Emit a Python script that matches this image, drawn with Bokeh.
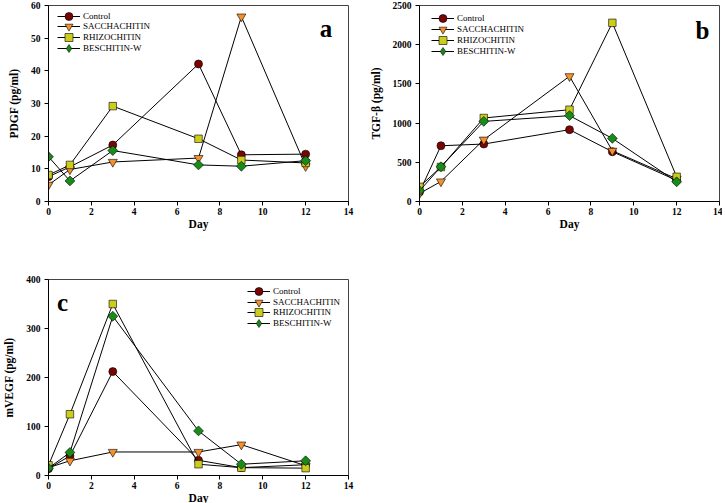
import numpy as np
from bokeh.plotting import figure
from bokeh.layouts import column, row
from bokeh.models import Range1d, Legend, LegendItem, Label, FixedTicker
from bokeh.embed import file_html
from bokeh.resources import INLINE

days = [0, 1, 3, 7, 9, 12]
series_names = ["Control", "SACCHACHITIN", "RHIZOCHITIN", "BESCHITIN-W"]

pdgf_control = [7.6, 10.6, 17.3, 42.1, 14.3, 14.5]
pdgf_saccha = [5.1, 9.8, 12.1, 13.3, 56.6, 10.8]
pdgf_rhizo = [8.1, 11.2, 29.2, 19.2, 12.7, 11.8]
pdgf_besch = [13.7, 6.3, 15.6, 11.2, 10.8, 12.5]

tgf_control = [120, 711, 733, 916, 635, 270]
tgf_saccha = [102, 255, 788, 1597, 647, 290]
tgf_rhizo = [187, 440, 1065, 1171, 2279, 315]
tgf_besch = [136, 443, 1022, 1095, 805, 251]

vegf_control = [14, 40, 212, 31, 16, 22]
vegf_saccha = [16, 30, 48, 48, 63, 20]
vegf_rhizo = [21, 125, 350, 23, 16, 15]
vegf_besch = [15, 47, 325, 91, 23, 30]

x_ticks = [0, 2, 4, 6, 8, 10, 12, 14]
pdgf_ticks = [0, 10, 20, 30, 40, 50, 60]
tgf_ticks = [0, 500, 1000, 1500, 2000, 2500]
vegf_ticks = [0, 100, 200, 300, 400]

colors = ["#7a0505", "#f5912a", "#cccc1a", "#178c17"]
markers = ["circle", "inverted_triangle", "square", "square"]
legend_markers = ["circle", "inverted_triangle", "square", "diamond"]
sizes = [8, 9, 7.5, 7]
angles = [0, 0, 0, np.pi / 4]

SERIF = "Liberation Serif"
FRAME_H = 196


def make_panel(series, ymax, yticks, ylabel, letter, letter_pos,
               borders, legend_x, legend_top, legend_pitch):
    bl, br, bt, bb = borders
    p = figure(frame_width=300, frame_height=FRAME_H,
               x_range=Range1d(0, 14), y_range=Range1d(0, ymax),
               output_backend="svg", toolbar_location=None,
               min_border_left=bl, min_border_right=br,
               min_border_top=bt, min_border_bottom=bb)
    p.xgrid.visible = False
    p.ygrid.visible = False
    p.outline_line_color = "#444444"
    p.outline_line_width = 1
    p.background_fill_color = "white"
    p.border_fill_color = "white"
    for ax in (p.xaxis[0], p.yaxis[0]):
        ax.axis_line_color = "black"
        ax.major_tick_line_color = "black"
        ax.major_tick_out = 4
        ax.major_tick_in = 0
        ax.minor_tick_line_color = None
        ax.major_label_text_font = SERIF
        ax.major_label_text_font_style = "bold"
        ax.major_label_text_font_size = "9.5px"
        ax.major_label_text_color = "black"
        ax.axis_label_text_font = SERIF
        ax.axis_label_text_font_style = "bold"
        ax.axis_label_text_font_size = "11.5px"
        ax.axis_label_text_color = "black"
    p.xaxis[0].ticker = FixedTicker(ticks=x_ticks)
    p.yaxis[0].ticker = FixedTicker(ticks=yticks)
    p.xaxis[0].axis_label = "Day"
    p.xaxis[0].major_label_standoff = 2
    p.xaxis[0].axis_label_standoff = 0
    p.yaxis[0].axis_label = ylabel
    p.yaxis[0].major_label_standoff = 4
    p.yaxis[0].axis_label_standoff = 8

    for k, (name, vals, c, m, lm, s, a) in enumerate(
            zip(series_names, series, colors, markers, legend_markers, sizes, angles)):
        lr = p.line(days, vals, line_color="black", line_width=1)
        sr = p.scatter(days, vals, marker=m, size=s, angle=a,
                       fill_color=c, line_color="black", line_width=0.6)
        if lm != m:
            hr = p.scatter(days, vals, marker=lm, size=s, fill_color=c,
                           line_color="black", line_width=0.6, visible=False)
            item = LegendItem(label=name, renderers=[lr, hr])
        else:
            item = LegendItem(label=name, renderers=[lr, sr])
        center = legend_top + k * legend_pitch
        leg = Legend(items=[item], location=(legend_x, FRAME_H - center - 10),
                     label_text_font=SERIF, label_text_font_size="9px",
                     label_text_color="black",
                     glyph_width=23, glyph_height=20, label_height=20,
                     label_standoff=3, spacing=0, padding=0, margin=0,
                     border_line_color=None, background_fill_alpha=0,
                     click_policy="none")
        p.add_layout(leg)
    lx, ly = letter_pos
    p.add_layout(Label(x=lx, y=ly, text=letter, text_font=SERIF,
                       text_font_style="bold", text_font_size="25px",
                       text_align="center", text_baseline="alphabetic",
                       text_color="black"))
    return p


pa = make_panel([pdgf_control, pdgf_saccha, pdgf_rhizo, pdgf_besch],
                60, pdgf_ticks, "PDGF (pg/ml)", "a", (12.95, 53.0),
                (48, 12, 5, 39), 9, 10.7, 10.7)
pb = make_panel([tgf_control, tgf_saccha, tgf_rhizo, tgf_besch],
                2500, tgf_ticks, "TGF-\u03b2 (pg/ml)", "b", (13.2, 2181),
                (59, 3, 3, 41), 12, 13.4, 10.7)
pc = make_panel([vegf_control, vegf_saccha, vegf_rhizo, vegf_besch],
                400, vegf_ticks, "mVEGF (pg/ml)", "c", (0.65, 354),
                (44, 16, 39, 24), 199, 12.4, 10.4)

layout = column(row(pa, pb), pc)

open("out.html", "w").write(file_html(layout, INLINE))
